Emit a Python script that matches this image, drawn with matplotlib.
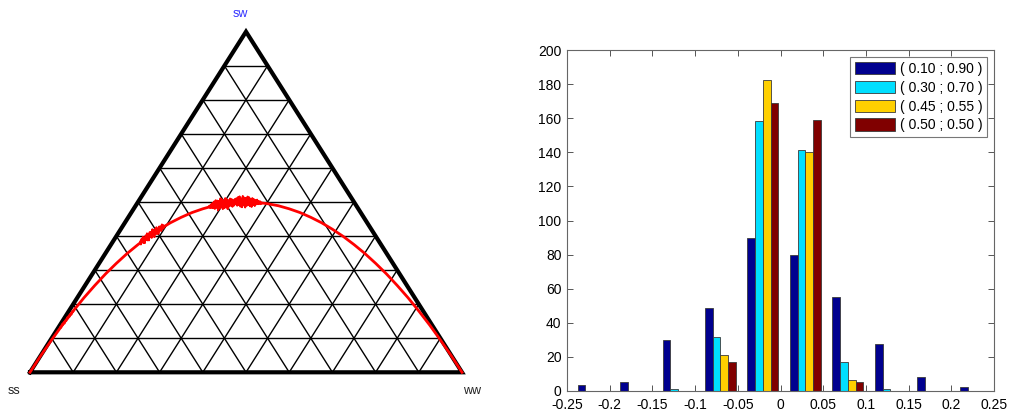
import numpy as np
import matplotlib
matplotlib.use("Agg")
import matplotlib.pyplot as plt

plt.rcParams['font.family'] = ['Liberation Sans', 'DejaVu Sans']
plt.rcParams['axes.unicode_minus'] = False

# ---------------- data ----------------
# Hardy-Weinberg curve (x = q, height = heterozygote freq)
curve_q = [0.0, 0.025, 0.05, 0.075, 0.1, 0.125, 0.15, 0.175, 0.2, 0.225, 0.25, 0.275,
           0.3, 0.325, 0.35, 0.375, 0.4, 0.425, 0.45, 0.475, 0.5, 0.525, 0.55, 0.575,
           0.6, 0.625, 0.65, 0.675, 0.7, 0.725, 0.75, 0.775, 0.8, 0.825, 0.85, 0.875,
           0.9, 0.925, 0.95, 0.975, 1.0]
curve_h = [0.0, 0.049, 0.095, 0.139, 0.18, 0.219, 0.255, 0.289, 0.32, 0.349, 0.375, 0.399,
           0.42, 0.439, 0.455, 0.469, 0.48, 0.489, 0.495, 0.499, 0.5, 0.499, 0.495, 0.489,
           0.48, 0.469, 0.455, 0.439, 0.42, 0.399, 0.375, 0.349, 0.32, 0.289, 0.255, 0.219,
           0.18, 0.139, 0.095, 0.049, 0.0]

# simulated clusters (jitter around the curve)
cluster1_range = (0.07, 0.10)
cluster1_dy = [0.002, -0.003, 0.004, -0.002, 0.003, -0.004, 0.002, -0.003, 0.004, -0.002,
               0.003, -0.003, 0.002, -0.004, 0.003, -0.002]
cluster2_range = (0.255, 0.31)
cluster2_dy = [0.004, -0.006, 0.009, -0.003, 0.012, -0.008, 0.006, -0.011, 0.010, -0.005,
               0.013, -0.009, 0.007, -0.012, 0.011, -0.004, 0.009, -0.010, 0.014, -0.007,
               0.008, -0.013, 0.010, -0.006, 0.012, -0.009, 0.005, -0.011, 0.009, -0.004,
               0.007, -0.008, 0.010, -0.005, 0.006, -0.003]
cluster3_range = (0.415, 0.535)
cluster3_dy = [0.003, -0.004, 0.006, -0.005, 0.009, -0.007, 0.012, -0.010, 0.015, -0.008,
               0.013, -0.016, 0.011, -0.012, 0.018, -0.009, 0.014, -0.015, 0.010, -0.013,
               0.016, -0.011, 0.012, -0.017, 0.009, -0.010, 0.013, -0.008, 0.011, -0.012,
               0.007, -0.009, 0.010, -0.006, 0.012, -0.010, 0.015, -0.008, 0.017, -0.013,
               0.011, -0.015, 0.018, -0.010, 0.013, -0.016, 0.012, -0.011, 0.016, -0.009,
               0.014, -0.012, 0.010, -0.014, 0.012, -0.008, 0.009, -0.011, 0.007, -0.006,
               0.008, -0.005, 0.005, -0.004, 0.004, -0.003]

vertex_labels = ['ss', 'sw', 'ww']

# histogram
bin_centers = [-0.2195, -0.1698, -0.1200, -0.0703, -0.0206, 0.0292, 0.0789, 0.1287, 0.1784, 0.2282]
series_labels = ['( 0.10 ; 0.90 )', '( 0.30 ; 0.70 )', '( 0.45 ; 0.55 )', '( 0.50 ; 0.50 )']
counts_010 = [3.5, 5, 30, 48.5, 90, 80, 55, 27.5, 8, 2.2]
counts_030 = [0, 0, 1, 31.5, 158.5, 141.5, 17, 1, 0, 0]
counts_045 = [0, 0, 0, 21, 182.5, 140, 6.7, 0, 0, 0]
counts_050 = [0, 0, 0, 17, 169, 159, 5, 0, 0, 0]
series_colors = ['#00008F', '#00DFFF', '#FFD000', '#800000']

x_ticks = [-0.25, -0.2, -0.15, -0.1, -0.05, 0, 0.05, 0.1, 0.15, 0.2, 0.25]
x_ticklabels = ['-0.25', '-0.2', '-0.15', '-0.1', '-0.05', '0', '0.05', '0.1', '0.15', '0.2', '0.25']
y_ticks = [0, 20, 40, 60, 80, 100, 120, 140, 160, 180, 200]

# ---------------- figure ----------------
fig = plt.figure(figsize=(10.10, 4.12), dpi=100)

# ternary axes (triangle fills axes exactly)
axt = fig.add_axes([30 / 1010, (412 - 372.3) / 412, 432 / 1010, 340.6 / 412])
axt.set_xlim(0, 1)
axt.set_ylim(0, 1)
axt.axis('off')

for i in range(1, 10):
    f = i / 10
    axt.plot([f / 2, 1 - f / 2], [f, f], color='black', lw=1.0, clip_on=False)
    axt.plot([f, f + 0.5 * (1 - f)], [0, 1 - f], color='black', lw=1.0, clip_on=False)
    axt.plot([f, f / 2], [0, f], color='black', lw=1.0, clip_on=False)
axt.plot([0, 1, 0.5, 0], [0, 0, 1, 0], color='black', lw=3, clip_on=False,
         solid_joinstyle='miter')

axt.plot(curve_q, curve_h, color='red', lw=2, clip_on=False, zorder=5)
for rng, dy in [(cluster1_range, cluster1_dy), (cluster2_range, cluster2_dy),
                (cluster3_range, cluster3_dy)]:
    cx = np.linspace(rng[0], rng[1], len(dy))
    cy = np.interp(cx, curve_q, curve_h) + np.array(dy)
    axt.plot(cx, cy, color='red', lw=1.4, clip_on=False, zorder=6)

fig.text(14 / 1010, 1 - 391 / 412, vertex_labels[0], fontsize=9, color='#222222',
         ha='center', va='center')
fig.text(240 / 1010, 1 - 14 / 412, vertex_labels[1], fontsize=9, color='#3333FF',
         ha='center', va='center')
fig.text(472 / 1010, 1 - 391 / 412, vertex_labels[2], fontsize=9, color='#222222',
         ha='center', va='center')

# histogram axes
axh = fig.add_axes([567 / 1010, (412 - 391) / 412, 427 / 1010, 341 / 412])
bw = 0.00907
all_counts = [counts_010, counts_030, counts_045, counts_050]
for k, (cnt, col, lab) in enumerate(zip(all_counts, series_colors, series_labels)):
    xs = np.array(bin_centers) + (k - 1.5) * bw
    axh.bar(xs, cnt, width=bw, color=col, edgecolor='#3a3a3a', linewidth=0.6, label=lab)

axh.set_xlim(-0.25, 0.25)
axh.set_ylim(0, 200)
axh.set_xticks(x_ticks)
axh.set_xticklabels(x_ticklabels)
axh.set_yticks(y_ticks)
axh.tick_params(direction='in', length=4, width=0.7, color='#555555', labelsize=10,
                top=True, right=True)
axh.tick_params(axis='x', pad=5)
axh.tick_params(axis='y', pad=4)
for sp in axh.spines.values():
    sp.set_color('#666666')
    sp.set_linewidth(0.8)

leg = axh.legend(loc='upper right', fontsize=10, frameon=True, fancybox=False,
                 edgecolor='#555555', handlelength=2.9, handleheight=1.0,
                 labelspacing=0.35, borderaxespad=0.5, handletextpad=0.3,
                 borderpad=0.35)
leg.get_frame().set_linewidth(0.8)
for h in leg.legend_handles:
    h.set_edgecolor('#3a3a3a')

fig.savefig('out.png', dpi=100)
